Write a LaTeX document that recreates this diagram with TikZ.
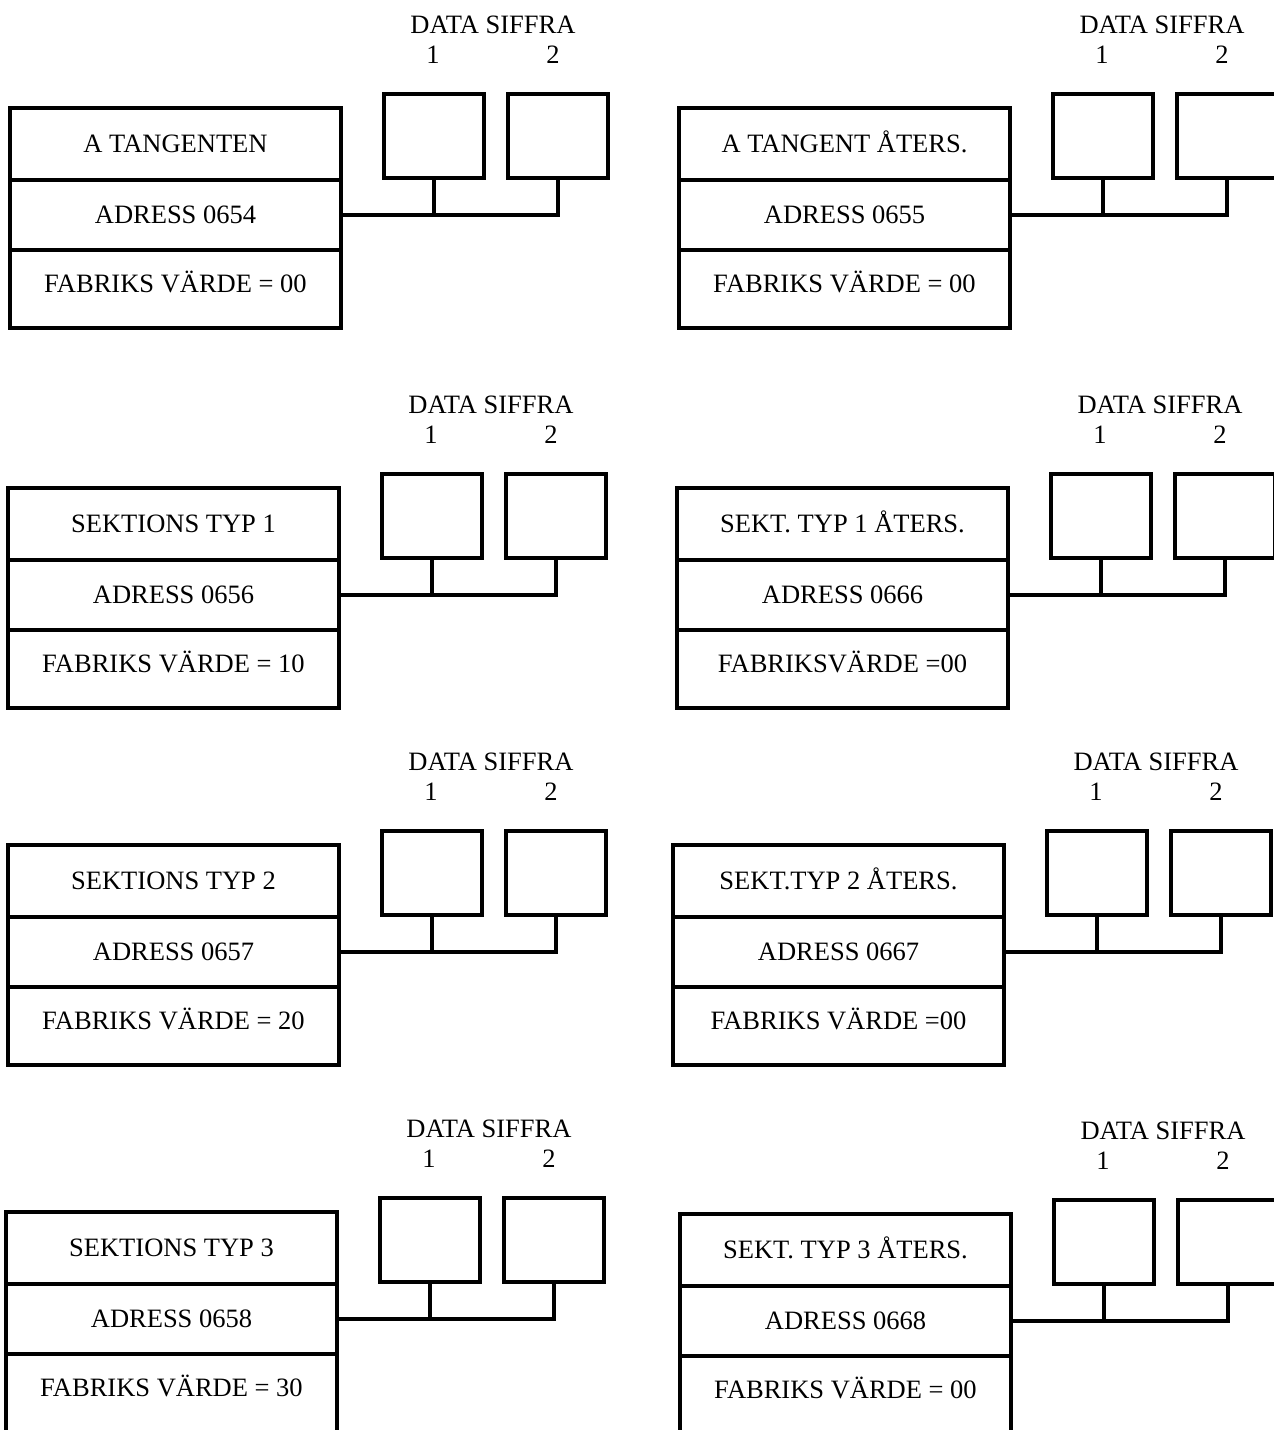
\documentclass[tikz,border=0pt]{standalone}
\usepackage{fontspec}
\setmainfont{Liberation Serif}
\usetikzlibrary{positioning}
\begin{document}
\begin{tikzpicture}[x=0.5pt, y=-0.5pt, line width=1.6pt,
    font=\fontsize{13.25}{15}\selectfont,
    cell/.style={draw, rectangle, outer sep=0pt, minimum width=165.5pt,
        text height=8.8pt, text depth=0pt},
    siffra/.style={draw, rectangle, outer sep=0pt, minimum width=50pt, minimum height=42pt}]
    \useasboundingbox (0,0) rectangle (1274,1430);
    \clip (0,0) rectangle (1274,1430);

    \foreach \x/\y/\titel/\adress/\varde [count=\i] in {
        10/108/A TANGENTEN/ADRESS 0654/FABRIKS VÄRDE = 00,
        679/108/A TANGENT ÅTERS./ADRESS 0655/FABRIKS VÄRDE = 00,
        8/488/SEKTIONS TYP 1/ADRESS 0656/FABRIKS VÄRDE = 10,
        677/488/SEKT. TYP 1 ÅTERS./ADRESS 0666/FABRIKSVÄRDE =00,
        8/845/SEKTIONS TYP 2/ADRESS 0657/FABRIKS VÄRDE = 20,
        673/845/SEKT.TYP 2 ÅTERS./ADRESS 0667/FABRIKS VÄRDE =00,
        6/1212/SEKTIONS TYP 3/ADRESS 0658/FABRIKS VÄRDE = 30,
        680/1214/SEKT. TYP 3 ÅTERS./ADRESS 0668/FABRIKS VÄRDE = 00}{
        % Ruta med tre fält
        \node[cell, minimum height=36pt, anchor=north west] (t\i) at (\x,\y) {\titel};
        \node[cell, minimum height=35pt, below=0pt of t\i] (a\i) {\adress};
        \node[cell, minimum height=39pt, text depth=5pt, below=0pt of a\i] (v\i) {\varde};

        % Datasiffror 1 och 2
        \node[siffra, anchor=north west] (d1-\i) at (\x+374,\y-14) {};
        \node[siffra, anchor=north west] (d2-\i) at (\x+498,\y-14) {};
        \node (rubrik\i) at (\x+483,\y-83) {DATA SIFFRA};
        \node (n1-\i) at (\x+423,\y-53) {1};
        \node (n2-\i) at (\x+543,\y-53) {2};

        % Ledning till siffrorna
        \draw (a\i.east) -| (d2-\i.south);
        \draw (d1-\i.south) -- (d1-\i.south |- a\i.east);
    }
\end{tikzpicture}
\end{document}
